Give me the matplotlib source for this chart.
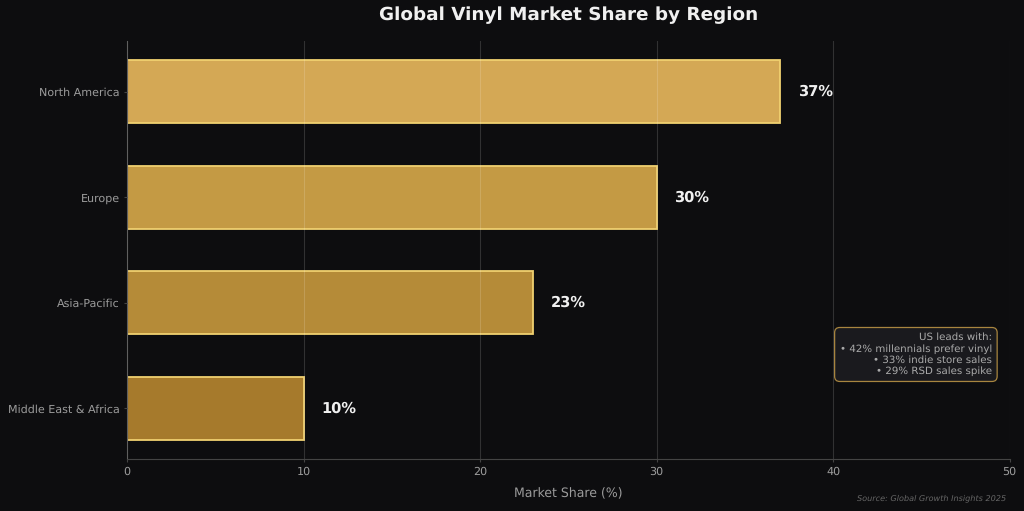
import matplotlib.pyplot as plt

plt.rcParams["text.hinting"] = "none"

regions = ["Middle East & Africa", "Asia-Pacific", "Europe", "North America"]
shares = [10, 23, 30, 37]
colors = ["#a67a2c", "#b58b38", "#c49a44", "#d4a855"]
note = "US leads with:\n• 42% millennials prefer vinyl\n• 33% indie store sales\n• 29% RSD sales spike"

bg = "#0d0d0f"
grey = "#9c9c9c"

fig, ax = plt.subplots(figsize=(10.24, 5.11), dpi=100, facecolor=bg)
ax.set_facecolor(bg)
fig.subplots_adjust(left=0.124, right=0.986, top=0.9198, bottom=0.1018)

bars = ax.barh(regions, shares, height=0.6, color=colors, edgecolor="#f0d070", linewidth=1.3)
for bar, val in zip(bars, shares):
    ax.text(val + 1, bar.get_y() + bar.get_height() / 2, str(val) + "%", color="#f0f0f0",
            fontsize=10.5, fontweight="bold", va="center")

ax.set_xlim(0, 50)
ax.set_ylim(-0.48, 3.48)
ax.set_xticks([0, 10, 20, 30, 40, 50])
ax.grid(axis="x", color="#ffffff", alpha=0.15, linewidth=0.8)
ax.set_axisbelow(False)
ax.tick_params(colors=grey, labelsize=8, color="#444444", length=2.5, pad=2.5)
ax.tick_params(axis="x", pad=3)
for side in ["top", "right"]:
    ax.spines[side].set_visible(False)
for side in ["left", "bottom"]:
    ax.spines[side].set_color("#444444")

ax.set_xlabel("Market Share (%)", color=grey, fontsize=9, labelpad=7)
fig.text(0.5555, 0.97, "Global Vinyl Market Share by Region", color="#f0f0f0", fontsize=13.25,
         fontweight="bold", ha="center", va="center")

ax.text(0.98, 0.25, note, transform=ax.transAxes, color="#aaaaaa", fontsize=7.4, ha="right", va="center",
        linespacing=1.22, bbox=dict(boxstyle="round,pad=0.5", facecolor="#1a1a1e", edgecolor="#a8853f", linewidth=0.9))
fig.text(0.983, 0.025, "Source: Global Growth Insights 2025", color="#666666", fontsize=5.85,
         style="italic", ha="right", va="center")

fig.savefig("out.png", dpi=100, facecolor=bg)
